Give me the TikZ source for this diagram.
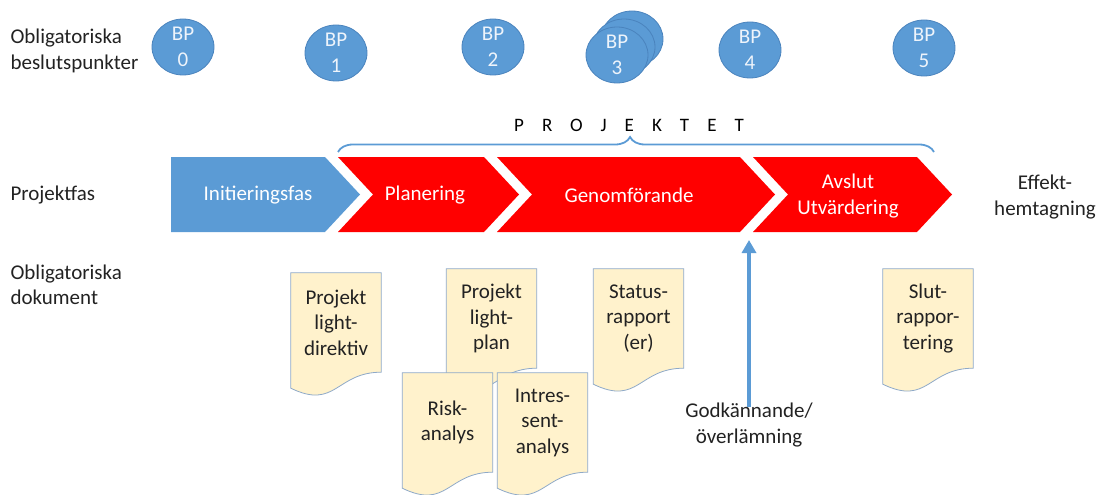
\documentclass[tikz,border=0pt]{standalone}
\usepackage{fontspec}
\setmainfont{Carlito}
\newfontfamily\trackedfont[LetterSpace=95]{Carlito}
\usetikzlibrary{shapes.geometric, decorations.pathreplacing, arrows.meta, backgrounds}
\definecolor{bpblue}{HTML}{5B9BD5}
\definecolor{bpedge}{HTML}{4A83BD}
\definecolor{phasered}{HTML}{FF0000}
\definecolor{paperfill}{HTML}{FFF2CC}
\definecolor{paperedge}{HTML}{8EA9C8}
\definecolor{inkgray}{HTML}{222222}
\definecolor{bptext}{HTML}{EEF4FB}

\begin{document}
\begin{tikzpicture}[x=1pt, y=-1pt,
  every node/.style={font=\fontsize{21}{25.5}\selectfont, text=inkgray, align=center},
  bp/.style={ellipse, fill=bpblue, draw=bpedge, line width=0.8pt, minimum width=62pt, minimum height=56pt, inner sep=0pt, text=bptext},
  phase/.style={text=white},
  sidelabel/.style={anchor=west, align=left},
  paper/.style={minimum width=90pt, minimum height=99pt, inner sep=0pt},
  papershape/.style={fill=paperfill, draw=paperedge, line width=0.8pt},
  handoff/.style={draw=bpblue, line width=4pt, -{Triangle[width=14pt,length=13pt]}}]
\useasboundingbox (0,0) rectangle (1100,495);

% row labels
\node[sidelabel] (bplabel) at (7,51) {Obligatoriska\\beslutspunkter};
\node[sidelabel] (faslabel) at (7,195) {Projektfas};
\node[sidelabel] (doklabel) at (7,285) {Obligatoriska\\dokument};

% decision points
\node[bp] (bp0) at (183,47) {BP\\0};
\node[bp] (bp1) at (336,53) {BP\\1};
\node[bp] (bp2) at (493,47) {BP\\2};
\node[bp] (bp3c) at (632,39) {};
\node[bp] (bp3b) at (624,47) {};
\node[bp] (bp3) at (617,55) {BP\\3};
\node[bp] (bp4) at (750,50) {BP\\4};
\node[bp] (bp5) at (924,48) {BP\\5};

% project brace
\node (projekt) at (629,125) {\trackedfont\fontsize{19}{22}\selectfont\color{black}PROJEKTET};
\draw[bpblue, line width=1.8pt, decorate, decoration={brace, amplitude=15pt, aspect=0.49}] (338,152) -- (934,152);

% phases
\fill[bpblue] (171,157) -- (325,157) -- (360,194.5) -- (325,232) -- (171,232) -- cycle;
\foreach \l/\r in {338/484, 497/740, 753/917}
  \fill[phasered] (\l,157) -- (\r,157) -- (\r+35,194.5) -- (\r,232) -- (\l,232) -- (\l+35,194.5) -- cycle;
\node[phase] (initfas) at (258,195) {Initieringsfas};
\node[phase] (planfas) at (425,195) {Planering};
\node[phase] (genomfas) at (629,195) {Genomförande};
\node[phase] (avslutfas) at (848,196) {Avslut\\Utvärdering};
\node (effekt) at (1045,197) {Effekt-\\hemtagning};

% documents
\node[paper] (dirdoc) at (336,322.5) {Projekt\\light-\\direktiv};
\node[paper] (plandoc) at (491.5,318.5) {Projekt\\light-\\plan};
\node[paper] (riskdoc) at (447.5,422.5) {Risk-\\analys};
\node[paper] (intdoc) at (542.5,422.5) {Intres-\\sent-\\analys};
\node[paper] (statdoc) at (638.5,318.5) {Status-\\rapport\\(er)};
\node[paper] (slutdoc) at (928,318.5) {Slut-\\rappor-\\tering};
\begin{scope}[on background layer]
  \foreach \d in {dirdoc, plandoc, riskdoc, intdoc, statdoc, slutdoc}
    \filldraw[papershape] (\d.north west) -- (\d.north east) -- (\d.south east)
      .. controls (\d.south) and ([yshift=-38pt]\d.south) .. ([yshift=-16pt]\d.south west) -- cycle;
\end{scope}

% handover
\node (godk) at (749,425) {Godkännande/\\överlämning};
\coordinate (handover) at (749,240);
\draw[handoff, shorten <=-7pt] (godk) -- (handover);
\end{tikzpicture}
\end{document}
